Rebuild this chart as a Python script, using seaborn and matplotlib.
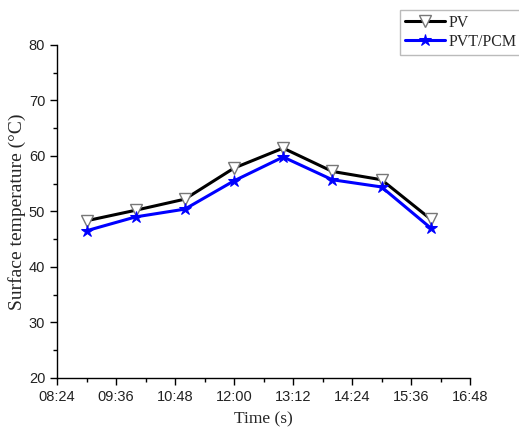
import matplotlib
matplotlib.use("Agg")
import matplotlib.pyplot as plt
import seaborn as sns
import pandas as pd
from matplotlib.ticker import FuncFormatter, MultipleLocator

hours = [9, 10, 11, 12, 13, 14, 15, 16]
pv = [48.3, 50.2, 52.2, 57.8, 61.4, 57.2, 55.7, 48.6]
pvt_pcm = [46.5, 49.0, 50.4, 55.5, 59.8, 55.7, 54.4, 47.0]
series_names = ["PV", "PVT/PCM"]

df = pd.DataFrame({
    "hour": hours * 2,
    "temp": pv + pvt_pcm,
    "series": [series_names[0]] * len(hours) + [series_names[1]] * len(hours),
})

sns.set_theme(style="ticks")
plt.rcParams["font.family"] = ["Liberation Sans", "DejaVu Sans"]

fig = plt.figure(figsize=(5.19, 4.30), dpi=100)
ax = fig.add_axes([57 / 519, 1 - 377.7 / 430, (470 - 57) / 519, (377.7 - 45) / 430])

sns.lineplot(data=df[df.series == "PV"], x="hour", y="temp", ax=ax, color="black",
             lw=2.2, marker="v", markersize=9, markerfacecolor="white",
             markeredgecolor="#777777", markeredgewidth=1.0, label="PV")
sns.lineplot(data=df[df.series == "PVT/PCM"], x="hour", y="temp", ax=ax, color="#0000ff",
             lw=2.2, marker="*", markersize=9, markerfacecolor="#0000ff",
             markeredgecolor="#0000ff", label="PVT/PCM")

ax.set_xlim(8.4, 16.8)
ax.set_ylim(20, 80)
ax.xaxis.set_major_locator(MultipleLocator(1.2))
ax.xaxis.set_minor_locator(MultipleLocator(0.6))
ax.yaxis.set_major_locator(MultipleLocator(10))
ax.yaxis.set_minor_locator(MultipleLocator(5))


def fmt(v, pos):
    m = int(round(v * 60))
    return f"{m // 60:02d}:{m % 60:02d}"


ax.xaxis.set_major_formatter(FuncFormatter(fmt))
for s in ["top", "right"]:
    ax.spines[s].set_visible(False)
for s in ["left", "bottom"]:
    ax.spines[s].set_color("black")
    ax.spines[s].set_linewidth(1.0)
ax.tick_params(which="major", direction="out", length=5, width=1, colors="black",
               labelsize=10.5, labelcolor="#222222")
ax.tick_params(which="minor", direction="out", length=3, width=1, colors="black")
for lab in ax.get_xticklabels() + ax.get_yticklabels():
    lab.set_family(["Liberation Sans", "DejaVu Sans"])

serif = ["Liberation Serif", "DejaVu Serif"]
ax.set_xlabel("Time (s)", family=serif, fontsize=12.5, labelpad=6)
ax.set_ylabel("Surface temperature (°C)", family=serif, fontsize=14, labelpad=2)

ax.get_legend().remove()
h, l = ax.get_legend_handles_labels()
leg = fig.legend(h, l, loc="upper left", bbox_to_anchor=(0.771, 0.977), frameon=True,
                 fancybox=False, edgecolor="#aaaaaa", prop={"family": serif, "size": 11.5},
                 handlelength=2.5, handletextpad=0.25, borderpad=0.3, labelspacing=0.2,
                 borderaxespad=0)
leg.get_frame().set_linewidth(1.0)

fig.savefig("out.png", dpi=100)
